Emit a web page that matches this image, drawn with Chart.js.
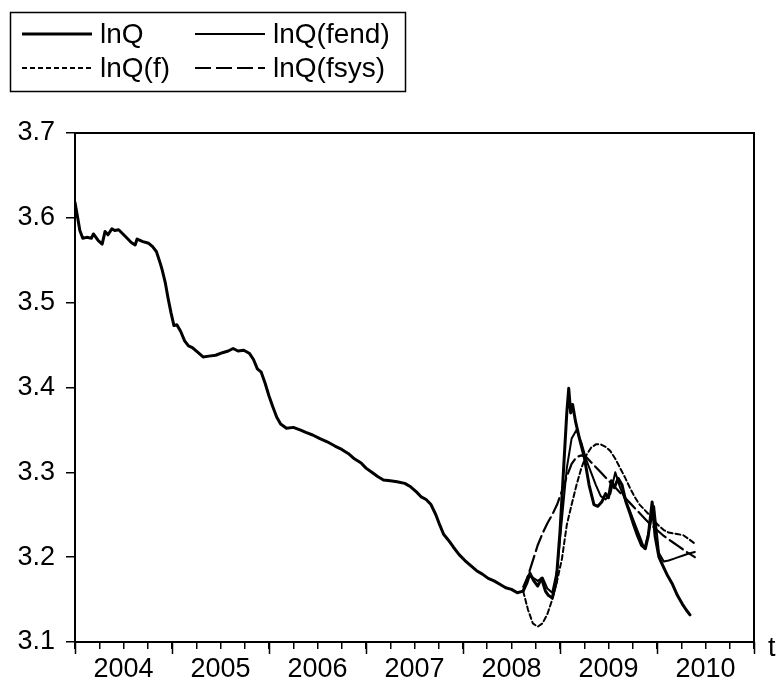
<!DOCTYPE html>
<html>
<head>
<meta charset="utf-8">
<script src="https://cdn.jsdelivr.net/npm/chart.js@4"></script>
<style>
  html, body { margin: 0; padding: 0; background: #fff; }
  #chart { display: block; }
</style>
</head>
<body>
<canvas id="chart" width="781" height="684"></canvas>
<script>
// actual series lnQ (decimal years)
const lnqYears = [
  2004.00, 2004.02, 2004.05, 2004.08, 2004.12, 2004.17, 2004.19, 2004.24, 2004.28, 2004.31,
  2004.34, 2004.38, 2004.41, 2004.45, 2004.52, 2004.58, 2004.62, 2004.64, 2004.70, 2004.76,
  2004.80, 2004.84, 2004.88, 2004.90, 2004.93, 2004.96, 2004.99, 2005.02, 2005.05, 2005.09,
  2005.13, 2005.17, 2005.21, 2005.27, 2005.32, 2005.38, 2005.45, 2005.52, 2005.58, 2005.63,
  2005.68, 2005.74, 2005.80, 2005.84, 2005.88, 2005.92, 2005.96, 2006.00, 2006.04, 2006.08,
  2006.12, 2006.18, 2006.25, 2006.32, 2006.38, 2006.45, 2006.52, 2006.60, 2006.68, 2006.75,
  2006.82, 2006.88, 2006.95, 2007.00, 2007.06, 2007.12, 2007.18, 2007.25, 2007.32, 2007.40,
  2007.46, 2007.52, 2007.57, 2007.62, 2007.67, 2007.72, 2007.76, 2007.80, 2007.85, 2007.90,
  2007.96, 2008.02, 2008.08, 2008.14, 2008.20, 2008.26, 2008.32, 2008.38, 2008.44, 2008.50,
  2008.56, 2008.62, 2008.66, 2008.69, 2008.73, 2008.77, 2008.81, 2008.85, 2008.88, 2008.92,
  2008.96, 2009.00, 2009.04, 2009.07, 2009.09, 2009.11, 2009.13, 2009.16, 2009.20, 2009.25,
  2009.30, 2009.35, 2009.39, 2009.43, 2009.47, 2009.50, 2009.53, 2009.56, 2009.60, 2009.64,
  2009.68, 2009.72, 2009.76, 2009.80, 2009.84, 2009.88, 2009.91, 2009.95, 2009.98, 2010.02,
  2010.06, 2010.11, 2010.16, 2010.21, 2010.26, 2010.30, 2010.34
];
const lnqValues = [
  3.618, 3.605, 3.585, 3.576, 3.577, 3.576, 3.581, 3.573, 3.569, 3.584,
  3.580, 3.587, 3.585, 3.586, 3.578, 3.571, 3.568, 3.575, 3.572, 3.570,
  3.566, 3.560, 3.546, 3.538, 3.524, 3.505, 3.488, 3.473, 3.474, 3.466,
  3.455, 3.449, 3.447, 3.441, 3.436, 3.437, 3.438, 3.441, 3.443, 3.446,
  3.443, 3.444, 3.440, 3.433, 3.422, 3.418, 3.405, 3.390, 3.377, 3.365,
  3.357, 3.352, 3.353, 3.350, 3.347, 3.344, 3.340, 3.336, 3.331, 3.327,
  3.322, 3.316, 3.311, 3.305, 3.300, 3.295, 3.291, 3.290, 3.289, 3.287,
  3.283, 3.277, 3.271, 3.268, 3.262, 3.250, 3.238, 3.227, 3.220, 3.212,
  3.203, 3.196, 3.190, 3.184, 3.180, 3.175, 3.172, 3.168, 3.164, 3.162,
  3.158, 3.160, 3.170, 3.181, 3.172, 3.166, 3.175, 3.160, 3.155, 3.152,
  3.170, 3.230, 3.310, 3.370, 3.399, 3.370, 3.380, 3.360, 3.340, 3.318,
  3.285, 3.262, 3.260, 3.265, 3.275, 3.270, 3.290, 3.282, 3.293, 3.285,
  3.265, 3.252, 3.238, 3.225, 3.214, 3.210, 3.225, 3.265, 3.225, 3.200,
  3.190, 3.178, 3.168, 3.155, 3.145, 3.138, 3.132
];

// forecast sample shared by the three forecasts
const forecastYears = [
  2008.62, 2008.67, 2008.72, 2008.77, 2008.82, 2008.87, 2008.92, 2008.97, 2009.02, 2009.07,
  2009.12, 2009.17, 2009.22, 2009.27, 2009.32, 2009.37, 2009.42, 2009.47, 2009.52, 2009.57,
  2009.62, 2009.67, 2009.72, 2009.77, 2009.82, 2009.87, 2009.92, 2009.97, 2010.02, 2010.07,
  2010.12, 2010.17, 2010.22, 2010.27, 2010.32, 2010.39
];
const fValues = [
  3.160, 3.138, 3.122, 3.118, 3.122, 3.133, 3.150, 3.172, 3.198, 3.238,
  3.262, 3.285, 3.305, 3.320, 3.329, 3.333, 3.333, 3.330, 3.325, 3.316,
  3.305, 3.294, 3.282, 3.271, 3.262, 3.256, 3.250, 3.243, 3.237, 3.232,
  3.229, 3.228, 3.227, 3.226, 3.222, 3.216
];
const fendValues = [
  3.165, 3.178, 3.176, 3.172, 3.176, 3.163, 3.158, 3.185, 3.245, 3.305,
  3.340, 3.350, 3.335, 3.315, 3.300, 3.285, 3.272, 3.268, 3.275, 3.300,
  3.282, 3.268, 3.255, 3.240, 3.225, 3.210, 3.232, 3.260, 3.205, 3.195,
  3.196, 3.198, 3.200, 3.202, 3.204, 3.206
];
const fsysValues = [
  3.160, 3.178, 3.196, 3.214, 3.228, 3.240, 3.250, 3.262, 3.278, 3.295,
  3.310, 3.318, 3.320, 3.318, 3.312, 3.306, 3.300, 3.294, 3.288, 3.282,
  3.276, 3.270, 3.264, 3.258, 3.252, 3.246, 3.240, 3.235, 3.230, 3.225,
  3.221, 3.217, 3.213, 3.209, 3.205, 3.200
];

const seriesLabels = ["lnQ", "lnQ(f)", "lnQ(fend)", "lnQ(fsys)"];
const yTicks = [3.1, 3.2, 3.3, 3.4, 3.5, 3.6, 3.7];

const FONT = "'Liberation Sans', Arial, sans-serif";

function toPoints(xs, ys) {
  return xs.map((x, i) => ({ x: x, y: ys[i] }));
}

// frame, major year ticks, "t" label and boxed legend
const extras = {
  id: "extras",
  afterDraw(chart) {
    const c = chart.ctx;
    const a = chart.chartArea;
    const xs = chart.scales.x;
    c.save();
    c.strokeStyle = "#000";
    c.lineWidth = 2;
    c.strokeRect(a.left, a.top, a.right - a.left, a.bottom - a.top);

    c.lineWidth = 1.5;
    for (let yr = 2004; yr <= 2011; yr++) {
      const px = Math.round(xs.getPixelForValue(yr)) + 0.5;
      c.beginPath();
      c.moveTo(px, a.bottom);
      c.lineTo(px, a.bottom + 12);
      c.stroke();
    }

    c.fillStyle = "#000";
    c.font = "27px " + FONT;
    c.textAlign = "left";
    c.textBaseline = "alphabetic";
    c.fillText("t", 768, 656);

    // legend
    c.lineWidth = 1.5;
    c.strokeRect(10.5, 12.5, 395, 79);
    c.font = "28px " + FONT;
    c.textBaseline = "middle";
    const cols = [22, 195];
    const rows = [34, 68];
    chart.data.datasets.forEach((ds, i) => {
      const x0 = cols[Math.floor(i / 2)];
      const y0 = rows[i % 2];
      c.beginPath();
      c.setLineDash(ds.borderDash || []);
      c.lineWidth = ds.borderWidth;
      c.moveTo(x0, y0);
      c.lineTo(x0 + 70, y0);
      c.stroke();
      c.setLineDash([]);
      c.fillText(ds.label, x0 + 78, y0 + 1);
    });
    c.restore();
  }
};

const ctx = document.getElementById("chart").getContext("2d");
const chart = new Chart(ctx, {
  type: "line",
  data: {
    datasets: [
      { label: seriesLabels[0], data: toPoints(lnqYears, lnqValues), borderWidth: 3, borderDash: [] },
      { label: seriesLabels[1], data: toPoints(forecastYears, fValues), borderWidth: 2, borderDash: [5, 3] },
      { label: seriesLabels[2], data: toPoints(forecastYears, fendValues), borderWidth: 2, borderDash: [] },
      { label: seriesLabels[3], data: toPoints(forecastYears, fsysValues), borderWidth: 2.2, borderDash: [16, 5] }
    ].map(ds => Object.assign(ds, {
      borderColor: "#000",
      backgroundColor: "#000",
      pointRadius: 0,
      tension: 0,
      fill: false,
      borderJoinStyle: "round",
      borderCapStyle: "round"
    }))
  },
  options: {
    responsive: false,
    animation: false,
    layout: { padding: { top: 133, right: 27, left: 0, bottom: 0 } },
    plugins: {
      legend: { display: false },
      tooltip: { enabled: false }
    },
    scales: {
      x: {
        type: "linear",
        min: 2004,
        max: 2011,
        afterFit: s => { s.height = 42; },
        afterBuildTicks: s => {
          s.ticks = [];
          for (let k = 0; k <= 28; k++) s.ticks.push({ value: 2004 + k * 0.25 });
        },
        ticks: {
          autoSkip: false,
          maxRotation: 0,
          color: "#000",
          padding: 4,
          font: { family: FONT, size: 27 },
          callback: v => (Math.abs((v % 1) - 0.5) < 1e-6 ? String(Math.floor(v)) : "")
        },
        grid: { drawOnChartArea: false, tickLength: 7, color: "#000", lineWidth: 1.5 },
        border: { color: "#000", width: 2 }
      },
      y: {
        min: 3.1,
        max: 3.7,
        afterFit: s => { s.width = 75; },
        afterBuildTicks: s => { s.ticks = yTicks.map(v => ({ value: v })); },
        ticks: {
          color: "#000",
          padding: 11,
          font: { family: FONT, size: 27 },
          callback: v => v.toFixed(1)
        },
        grid: { drawOnChartArea: false, tickLength: 9, color: "#000", lineWidth: 1.5 },
        border: { color: "#000", width: 2 }
      }
    }
  },
  plugins: [extras]
});
</script>
</body>
</html>
